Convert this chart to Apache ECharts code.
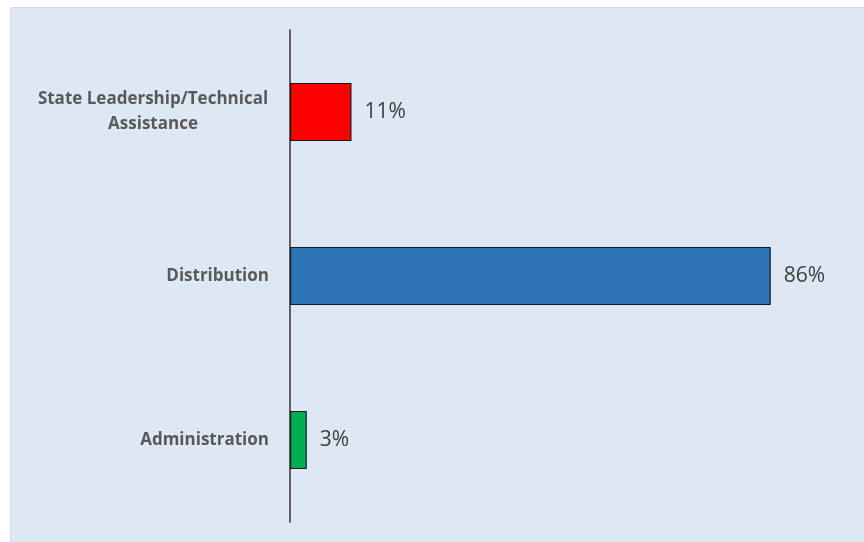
<!DOCTYPE html>
<html><head><meta charset="utf-8">
<script src="https://cdn.jsdelivr.net/npm/echarts@6/dist/echarts.min.js"></script>
<style>html,body{margin:0;padding:0;background:#fff}#c{width:864px;height:542px}</style>
</head><body><div id="c"></div>
<script>
const categories = ["State Leadership/Technical\nAssistance", "Distribution", "Administration"];
const values = [11, 86, 3];
const colors = ["#ff0000", "#2e75b6", "#00b050"];

const chart = echarts.init(document.getElementById('c'));
chart.setOption({
  animation: false,
  graphic: [{type:'rect', shape:{x:10.5,y:7.5,width:860,height:540}, style:{fill:'#dde8f4', stroke:'#d9d9d9', lineWidth:1}, z:-10}],
  grid: {left: 290, right: 15, top: 30, bottom: 20, containLabel: false},
  xAxis: {type: 'value', min: 0, max: 100, show: false},
  yAxis: {
    type: 'category', data: categories, inverse: true,
    axisLine: {show: true, lineStyle: {color: '#333', width: 1.5}},
    axisTick: {show: false},
    axisLabel: {
      margin: 21, color: '#595959', fontWeight: 'bold', fontSize: 17, fontFamily: 'Open Sans', align: 'right', lineHeight: 25,
      formatter: function (v) {
        if (v.indexOf('\n') >= 0) {
          return v.split('\n').map(s => '{c|' + s + '}').join('\n');
        }
        return v;
      },
      rich: {c: {width: 232, align: 'center', color: '#595959', fontWeight: 'bold', fontSize: 17, fontFamily: 'Open Sans', lineHeight: 25}}
    }
  },
  series: [{
    type: 'bar', barWidth: '35.5%',
    data: values.map((v, i) => ({value: v, itemStyle: {color: colors[i]}})),
    itemStyle: {borderColor: '#1a1a1a', borderWidth: 1.2},
    label: {show: true, position: 'right', distance: 13, formatter: '{c}%', color: '#404040', fontSize: 21, fontFamily: 'Open Sans'}
  }]
});
</script></body></html>
